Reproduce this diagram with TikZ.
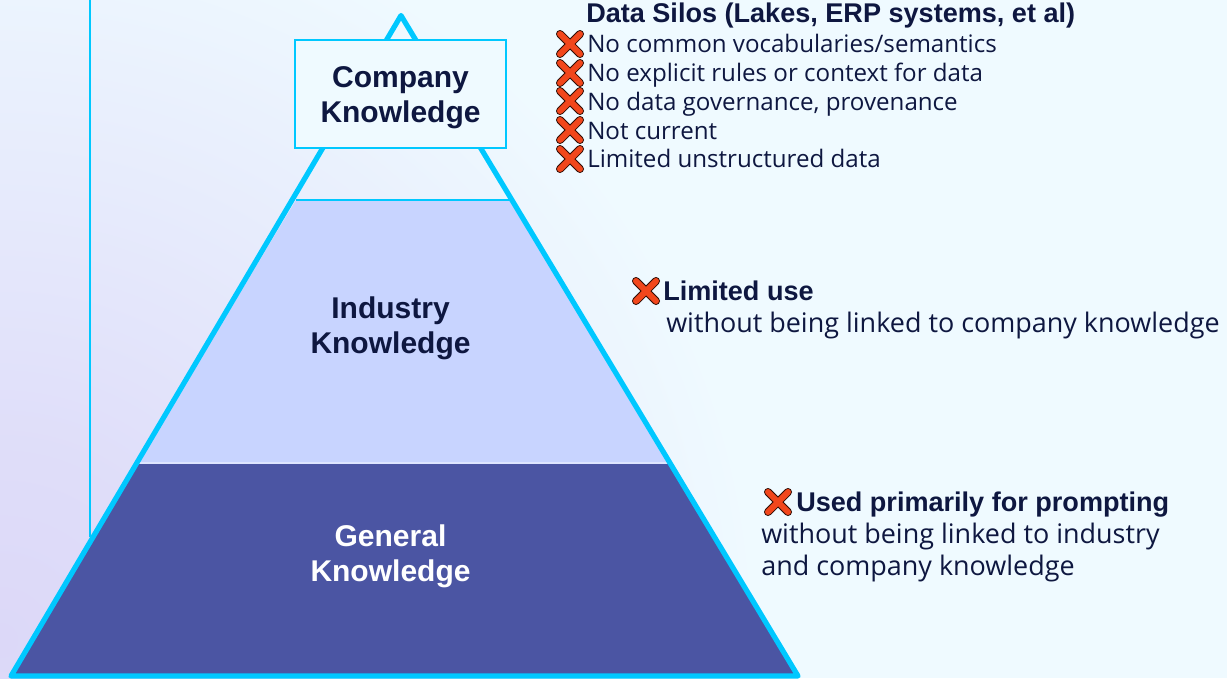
\documentclass[tikz,border=0pt]{standalone}
\usepackage{fontspec}
\setmainfont{Liberation Sans}
\newfontfamily\bodyfont{Open Sans}
\definecolor{bgA}{HTML}{EFFAFF}
\definecolor{lavA}{HTML}{DCD8F8}
\definecolor{cy}{HTML}{00C8FF}
\definecolor{midT}{HTML}{C8D4FF}
\definecolor{lowT}{HTML}{4B55A3}
\definecolor{ink}{HTML}{0E1740}
\definecolor{xred}{HTML}{F2471C}
\pgfdeclareradialshading{lavglow}{\pgfpointorigin}{color(0bp)=(lavA); color(6bp)=(lavA!85!bgA); color(25bp)=(bgA); color(50bp)=(bgA)}
\tikzset{
  x=0.75pt,y=-0.75pt,
  edge/.style={draw=cy,line width=3.9pt,line join=round,line cap=round},
  title/.style={font=\fontsize{22.5pt}{26pt}\bfseries,text=white,align=center,inner sep=0pt},
  body/.style={font=\fontsize{18.1pt}{21pt}\bodyfont,text=ink,anchor=base west,inner sep=0pt},
  bodyl/.style={font=\fontsize{20.2pt}{24pt}\bodyfont,text=ink,anchor=base west,inner sep=0pt},
  bodyb/.style={font=\fontsize{20.3pt}{24pt}\bfseries,text=ink,anchor=base west,inner sep=0pt},
  xmark/.pic={
    \draw[black!80!xred,line width=6pt,line cap=round] (-10,-10)--(10,10) (-10,10)--(10,-10);
    \draw[xred,line width=4.5pt,line cap=round] (-10,-10)--(10,10) (-10,10)--(10,-10);
  }
}
\begin{document}
\begin{tikzpicture}
\useasboundingbox (0,0) rectangle (1227,678);
\fill[bgA] (0,0) rectangle (1227,678);
\begin{scope}
\clip (0,0) rectangle (1227,678);
\shade[shading=lavglow] (0,640) circle[radius=760];
\end{scope}
\coordinate (apex) at (401,15.5);
\coordinate (bl) at (11,676);
\coordinate (br) at (798,676);
\coordinate (tl) at (296,200);
\coordinate (tr) at (512,200);
\coordinate (ml) at (138,463);
\coordinate (mr) at (669,463);
\coordinate (railtop) at (90,0);
\coordinate (railend) at (90,537);
\draw[cy,line width=1.5pt] (railtop)--(railend);
\fill[lowT] (ml)--(mr)--(br)--(bl)--cycle;
\fill[midT] (tl)--(tr)--(mr)--(ml)--cycle;
\draw[cy,line width=1.2pt] (tl)--(tr);
\draw[midT!60!white,line width=0.8pt] (ml)--(mr);
\draw[edge] (apex)--(br)--(bl)--cycle;
\node[draw=cy,line width=1.5pt,fill=bgA,minimum width=158pt,minimum height=81pt,inner sep=0pt] (company) at (400.5,94) {};
\node[title,text=ink] (companyT) at (400.5,98) {Company\\Knowledge};
\node[title,text=ink] (industry) at (390.5,328) {Industry\\Knowledge};
\node[title] (general) at (390.5,556) {General\\Knowledge};
\node[bodyb] (silos) at (586,22) {Data Silos (Lakes, ERP systems, et al)};
\pic at (570,44) {xmark};
\node[body] (s1) at (587,52) {No common vocabularies/semantics};
\pic at (570,73) {xmark};
\node[body] (s2) at (587,81) {No explicit rules or context for data};
\pic at (570,101) {xmark};
\node[body] (s3) at (587,110) {No data governance, provenance};
\pic at (570,130) {xmark};
\node[body] (s4) at (587,139) {Not current};
\pic at (570,159) {xmark};
\node[body] (s5) at (587,167) {Limited unstructured data};
\pic at (646,291) {xmark};
\node[bodyb] (l1) at (663,300) {Limited use};
\node[bodyl] (l2) at (666,332) {without being linked to company knowledge};
\pic at (778,502) {xmark};
\node[bodyb] (u1) at (796,511) {Used primarily for prompting};
\node[bodyl] (u2) at (761,543) {without being linked to industry};
\node[bodyl] (u3) at (761,575) {and company knowledge};
\end{tikzpicture}
\end{document}
